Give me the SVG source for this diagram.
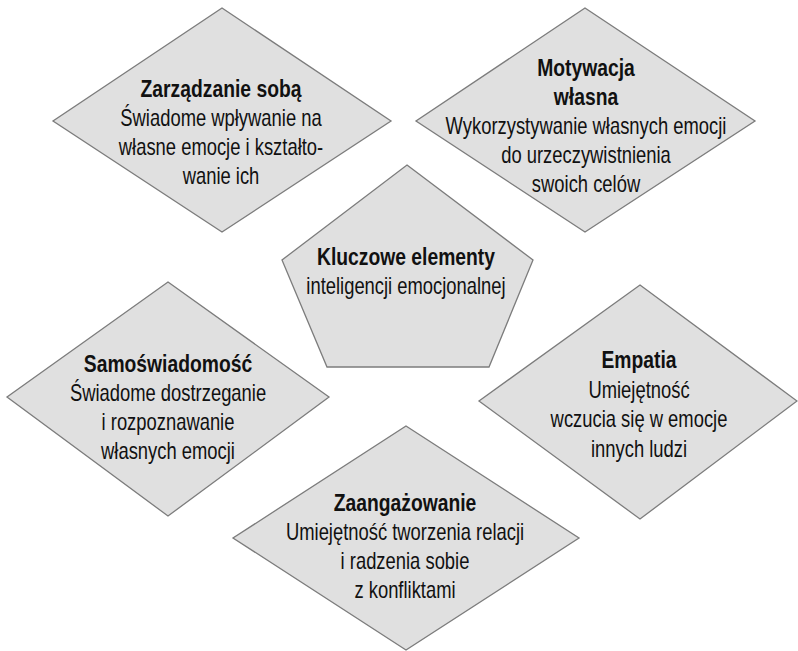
<svg xmlns="http://www.w3.org/2000/svg" width="798" height="651" viewBox="0 0 798 651">
<style>
.shape{fill:#e0e0e0;stroke:#7c7c7c;stroke-width:1.3;stroke-linejoin:miter}
text{font-family:"Liberation Sans",Arial,sans-serif;font-size:23px;fill:#111;text-anchor:middle}
.t{font-weight:bold}
</style>
<rect width="798" height="651" fill="#ffffff"/>
<g id="connectors"></g>
<g id="node-zarzadzanie">
<polygon class="shape" points="222,8 391,121 222,232 53,121"/>
<text transform="translate(221 97) scale(0.84 1)" class="t">Zarządzanie sobą</text>
<text transform="translate(221 126) scale(0.8 1)">Świadome wpływanie na</text>
<text transform="translate(221 155) scale(0.8 1)">własne emocje i kształto-</text>
<text transform="translate(221 184) scale(0.8 1)">wanie ich</text>
</g>
<g id="node-motywacja">
<polygon class="shape" points="585,8 755,121 585,232 416,121"/>
<text transform="translate(586 76) scale(0.84 1)" class="t">Motywacja</text>
<text transform="translate(586 105) scale(0.84 1)" class="t">własna</text>
<text transform="translate(586 134) scale(0.8 1)">Wykorzystywanie własnych emocji</text>
<text transform="translate(586 163) scale(0.8 1)">do urzeczywistnienia</text>
<text transform="translate(586 192) scale(0.8 1)">swoich celów</text>
</g>
<g id="node-kluczowe">
<polygon class="shape" points="407,165 533,260 489,367 327,367 282,260"/>
<text transform="translate(406 265) scale(0.84 1)" class="t">Kluczowe elementy</text>
<text transform="translate(406 294) scale(0.8 1)">inteligencji emocjonalnej</text>
</g>
<g id="node-samoswiadomosc">
<polygon class="shape" points="168,282 329,397 168,516 7,397"/>
<text transform="translate(168 372) scale(0.84 1)" class="t">Samoświadomość</text>
<text transform="translate(168 401) scale(0.8 1)">Świadome dostrzeganie</text>
<text transform="translate(168 430) scale(0.8 1)">i rozpoznawanie</text>
<text transform="translate(168 459) scale(0.8 1)">własnych emocji</text>
</g>
<g id="node-empatia">
<polygon class="shape" points="640,285 797,401 640,519 479,401"/>
<text transform="translate(639 368) scale(0.84 1)" class="t">Empatia</text>
<text transform="translate(639 398) scale(0.8 1)">Umiejętność</text>
<text transform="translate(639 427) scale(0.8 1)">wczucia się w emocje</text>
<text transform="translate(639 457) scale(0.8 1)">innych ludzi</text>
</g>
<g id="node-zaangazowanie">
<polygon class="shape" points="406,426 579,538 406,650 233,538"/>
<text transform="translate(405 511) scale(0.84 1)" class="t">Zaangażowanie</text>
<text transform="translate(405 540) scale(0.8 1)">Umiejętność tworzenia relacji</text>
<text transform="translate(405 569) scale(0.8 1)">i radzenia sobie</text>
<text transform="translate(405 598) scale(0.8 1)">z konfliktami</text>
</g>
</svg>
